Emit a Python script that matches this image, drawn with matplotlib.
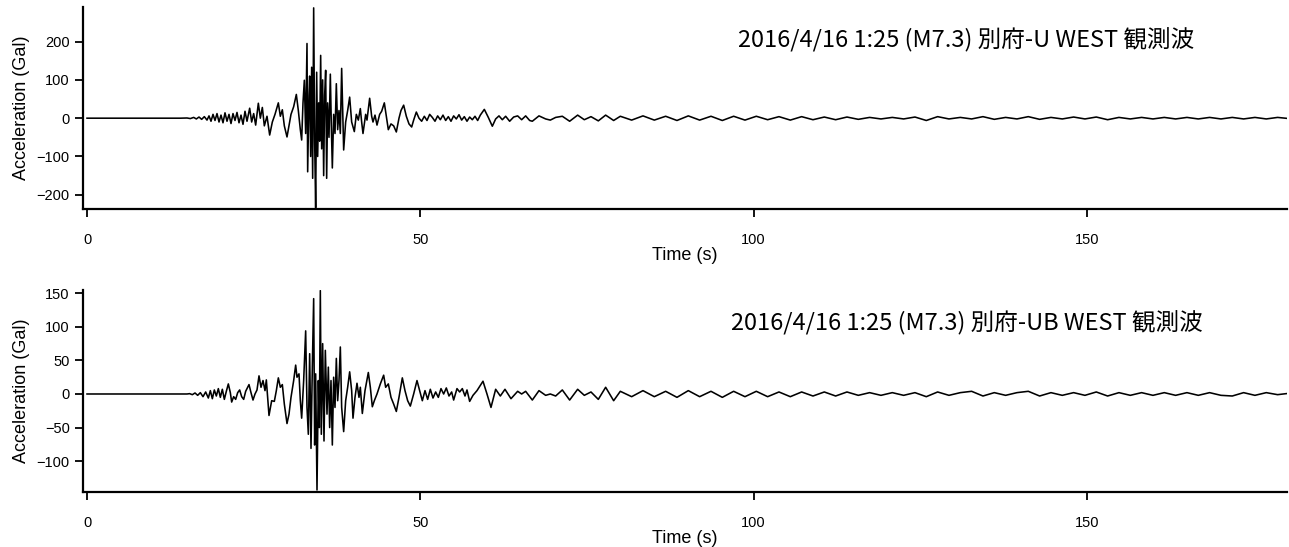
import numpy as np
import matplotlib
matplotlib.use("Agg")
import matplotlib.pyplot as plt

# ---- data (Gal vs s) ----
# strong-motion part, upper record (別府-U)
t_top = [0, 14.0, 15.0, 15.5, 16.0, 16.4, 16.8, 17.2, 17.6, 18.0, 18.3, 18.6, 18.9, 19.2, 19.5,
         19.8, 20.1, 20.4, 20.7, 21.0, 21.3, 21.6, 21.9, 22.2, 22.5, 22.8, 23.1, 23.4, 23.7, 24.0,
         24.4, 24.7, 25.0, 25.3, 25.7, 26.0, 26.3, 26.6, 27.0, 27.4, 27.8, 28.2, 28.7, 29.0, 29.3,
         29.6, 30.0, 30.3, 30.6, 31.0, 31.4, 31.7, 32.0, 32.2, 32.4, 32.6, 32.8, 33.0, 33.1, 33.3,
         33.4, 33.55, 33.7, 33.85, 34.0, 34.15, 34.3, 34.45, 34.6, 34.75, 34.9, 35.05, 35.2, 35.35,
         35.5, 35.65, 35.8, 35.95, 36.1, 36.3, 36.5, 36.65, 36.8, 37.0, 37.2, 37.4, 37.6, 37.8,
         38.0, 38.2, 38.5, 38.8, 39.1, 39.4, 39.7, 40.1, 40.4, 40.7, 41.0, 41.2, 41.4, 41.8, 42.0,
         42.4, 42.7, 42.9, 43.2, 43.5, 43.9, 44.2, 44.6, 44.9, 45.2, 45.6, 46.0, 46.4, 46.8, 47.1,
         47.5, 47.9, 48.3, 48.7, 49.0, 49.4, 49.8, 50.2, 50.6, 51.0, 51.4, 51.8, 52.2, 52.6, 53.0,
         53.4, 53.8, 54.2, 54.6, 55.0, 55.4, 55.8, 56.2, 56.6, 57.0, 57.4, 57.8, 58.2, 58.6, 59.0,
         59.6, 60.2, 60.8, 61.3, 61.8, 62.3, 62.8, 63.4, 64.0, 64.6, 65.2, 65.8, 66.4, 66.8, 67.8,
         68.8, 69.5, 70.3, 71.3, 72.4, 73.6, 74.6, 75.6, 76.7, 77.8, 79.0]
a_top = [0, 0, 0.5, -1, 2, -2, 3, -3, 4, -5, 6, -8, 10, -6, 12,
         -10, 8, -12, 14, -8, 10, -14, 12, -6, 15, -12, 8, -16, 18, -8,
         26, -10, 12, -18, 39, 0, 28, -20, 5, -44, -10, 10, 40, 5, 22,
         -20, -49, -20, 10, 30, 62, 20, -30, -57, 40, 99, -40, 195, -140, 60,
         110, -100, 133, -157, 288, -60, -234, 120, -100, 40, -60, 164, -80, 100,
         -150, 60, 125, -157, 40, -50, 115, -20, -130, 10, -40, 90, -30, 20,
         -40, 130, -83, -10, 20, 55, -10, -35, 10, -5, 25, -10, -40, 10, -5,
         52, 5, -10, 8, -18, 10, 18, 40, 5, -30, -15, -20, -36, 0, 20,
         34, 5, -15, -23, -5, 16, 0, -8, 5, -6, 10, 2, -8, 6, -4,
         8, -6, 4, -8, 6, -2, 9, -5, 4, -8, 3, -4, 5, -6, 8,
         23, 2, -21, -2, 6, -4, 5, -8, 3, 6, -4, 6, -6, -8, 6,
         -2, -5, 2, 5, -8, 8, -4, 4, -7, 8, -6]

# strong-motion part, lower record (別府-UB)
t_bot = [0, 15.0, 15.4, 15.8, 16.2, 16.6, 17.0, 17.4, 17.8, 18.2, 18.5, 18.8, 19.1, 19.4, 19.7,
         20.0, 20.3, 20.6, 20.9, 21.2, 21.5, 21.7, 22.0, 22.3, 22.6, 22.9, 23.2, 23.5, 23.8, 24.3,
         24.6, 24.9, 25.2, 25.5, 25.8, 26.1, 26.4, 26.7, 26.9, 27.3, 27.7, 28.1, 28.4, 28.7, 29.0,
         29.3, 29.6, 30.0, 30.3, 30.6, 31.0, 31.3, 31.5, 31.8, 32.0, 32.2, 32.5, 32.8, 33.0, 33.2,
         33.4, 33.6, 33.8, 34.0, 34.15, 34.3, 34.5, 34.7, 34.85, 35.0, 35.15, 35.35, 35.55, 35.75,
         36.0, 36.2, 36.4, 36.6, 36.8, 37.0, 37.2, 37.4, 37.6, 37.8, 38.0, 38.2, 38.5, 38.8, 39.1,
         39.4, 39.7, 39.9, 40.2, 40.5, 40.8, 41.0, 41.3, 41.7, 42.2, 42.5, 42.8, 43.1, 43.5, 44.0,
         44.5, 44.8, 45.2, 45.6, 46.0, 46.4, 46.8, 47.3, 47.7, 48.1, 48.5, 49.0, 49.5, 49.9, 50.3,
         50.7, 51.1, 51.5, 51.9, 52.3, 52.7, 53.1, 53.5, 53.9, 54.3, 54.7, 55.0, 55.5, 55.9, 56.3,
         56.7, 57.0, 57.4, 57.9, 58.5, 59.4, 60.0, 60.6, 61.3, 62.0, 62.7, 63.6, 64.6, 65.2, 65.8,
         66.8, 67.8, 68.8, 69.5, 70.3, 71.3, 72.4, 73.6, 74.6, 75.6, 76.7, 77.8, 79.0]
a_bot = [0, 0, 0.5, -1, 1.5, -2, 2, -4, 3, -6, 5, -7, 6, -3, 8,
         -5, 7, -8, 4, 15, 2, -12, -4, -8, 2, 6, -4, -8, 4, 14,
         2, -9, 0, 6, 27, 10, 20, 5, 21, -32, -10, -11, 5, 24, 10,
         14, -15, -44, -30, -5, 20, 43, 25, 30, -10, -36, 20, 94, -20, -60,
         60, -81, 40, 142, -76, 30, -143, 20, -50, 154, -60, 75, -70, 65,
         -30, 40, -50, 20, -76, 25, -20, 53, -10, 20, 70, -20, -56, -10, 10,
         33, 5, -36, -5, 16, -5, 10, -29, 5, 32, 10, -19, -10, 0, 15,
         28, 10, 15, -5, -15, -26, -5, 24, 5, -10, -18, 0, 20, 5, -10,
         5, -8, 7, -6, 3, -5, 8, 0, 9, -3, 3, -9, 8, 3, 8,
         -3, 6, -11, -2, 5, 19, 0, -20, 7, -3, 7, -7, 4, 0, 4,
         -9, 5, -2, 0, -3, 6, -9, 7, -2, 3, -8, 10, -10]

# coda, sampled every 1.7 s from 80 s
coda_start = 80.0
coda_step = 1.7
coda_top = [5, -5, 6, -5, 5, -6, 6, -5, 5, -6, 5, -5, 5, -4, 4, -5, 4, -4, 3, -4,
            3, -3, 2, -2, 2, -2, 3, -6, 4, -2, 2, -2, 4, -3, 2, -2, 4, -3, 2, -2,
            3, -2, 3, -4, 2, -2, 2, -2, 2, -2, 2, -2, 2, -2, 2, -2, 2, -2, 2, -1]
coda_bot = [4, -4, 5, -4, 4, -5, 5, -4, 4, -5, 4, -4, 4, -4, 3, -4, 3, -3, 3, -3,
            3, -2, 2, -2, 2, -2, 2, -4, 3, -2, 2, 4, -3, 2, -2, 2, 4, -3, 2, -2,
            2, -2, 3, -3, 2, -2, 2, -2, 2, -2, 2, -2, 2, -2, -3, 2, -2, 2, -1, 1]

titles = ["2016/4/16 1:25 (M7.3) 別府-U WEST 観測波",
          "2016/4/16 1:25 (M7.3) 別府-UB WEST 観測波"]
x_ticks = [0, 50, 100, 150]
y_ticks_top = [-200, -100, 0, 100, 200]
y_ticks_bot = [-100, -50, 0, 50, 100, 150]


def full_trace(t_head, a_head, coda):
    t_coda = coda_start + coda_step * np.arange(len(coda))
    return np.concatenate([t_head, t_coda]), np.concatenate([a_head, coda])


plt.rcParams['font.family'] = ['Liberation Sans', 'DejaVu Sans']

fig = plt.figure(figsize=(12.89, 5.47), dpi=100)
ax1 = fig.add_axes([0.0644, 0.618, 0.934, 0.369])
ax2 = fig.add_axes([0.0644, 0.1005, 0.934, 0.3695])

panels = [
    (ax1, t_top, a_top, coda_top, (-237, 290), y_ticks_top, titles[0], 0.544),
    (ax2, t_bot, a_bot, coda_bot, (-146, 155), y_ticks_bot, titles[1], 0.538),
]

for ax, th, ah, coda, ylim, yt, title, tx in panels:
    t, a = full_trace(th, ah, coda)
    ax.plot(t, a, color='black', lw=1.15)
    ax.set_xlim(-0.6, 180)
    ax.set_ylim(*ylim)
    ax.set_xticks(x_ticks)
    ax.set_yticks(yt)
    for s in ['top', 'right']:
        ax.spines[s].set_visible(False)
    for s in ['left', 'bottom']:
        ax.spines[s].set_linewidth(1.6)
    ax.tick_params(axis='both', direction='out', length=6, width=1.3, labelsize=10.5)
    ax.tick_params(axis='x', pad=11)
    ax.set_xlabel('Time (s)', fontsize=13, labelpad=0)
    ax.set_ylabel('Acceleration (Gal)', fontsize=13, labelpad=5)
    ax.text(tx, 0.837, title, transform=ax.transAxes, fontsize=17, va='center', ha='left',
            family=['Noto Sans CJK JP', 'DejaVu Sans'])

fig.savefig('out.png', dpi=100)
